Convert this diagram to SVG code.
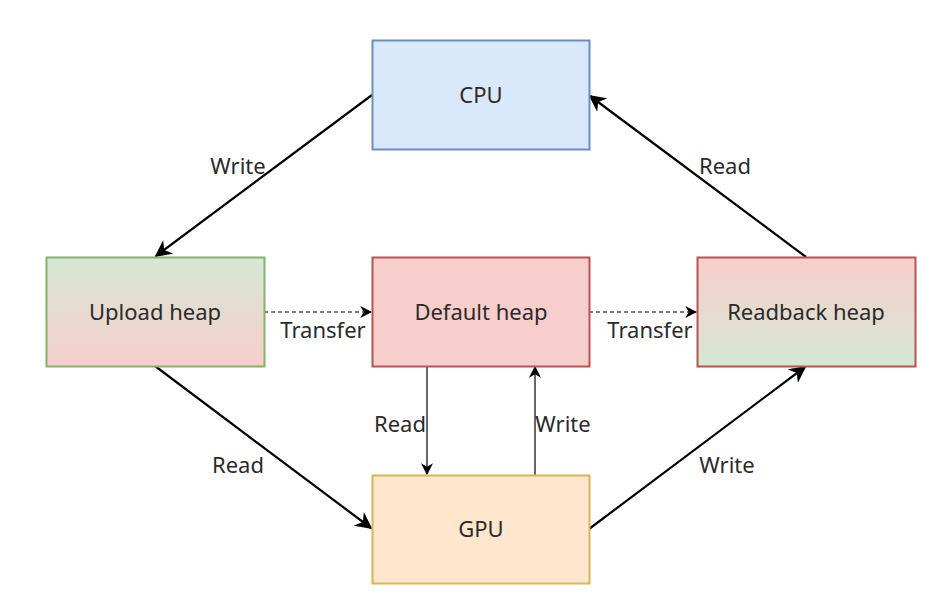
<svg xmlns="http://www.w3.org/2000/svg" width="944" height="595" viewBox="0 0 944 595">
<style>
.lbl{font-family:"Noto Sans","Open Sans","DejaVu Sans",sans-serif;font-size:22px;fill:#2a2a2a;text-anchor:middle;dominant-baseline:central}
.thick{stroke:#000;stroke-width:2.2;fill:none}
.thin{stroke:#000;stroke-width:1.2;fill:none}
.dash{stroke:#000;stroke-width:1.2;fill:none;stroke-dasharray:4 3}
</style>
<defs>
<linearGradient id="gUp" x1="0" y1="0" x2="0" y2="1">
<stop offset="0" stop-color="#d5e8d4"/><stop offset="1" stop-color="#f8cecc"/>
</linearGradient>
<linearGradient id="gRb" x1="0" y1="0" x2="0" y2="1">
<stop offset="0" stop-color="#f8cecc"/><stop offset="1" stop-color="#d5e8d4"/>
</linearGradient>
<marker id="aBig" viewBox="0 0 10 10" refX="9" refY="5" markerWidth="17" markerHeight="17" markerUnits="userSpaceOnUse" orient="auto">
<path d="M0,0 L10,5 L0,10 L3,5 z" fill="#000"/>
</marker>
<marker id="aSmall" viewBox="0 0 10 10" refX="9" refY="5" markerWidth="12" markerHeight="12" markerUnits="userSpaceOnUse" orient="auto">
<path d="M0,0 L10,5 L0,10 L3,5 z" fill="#000"/>
</marker>
</defs>
<rect width="944" height="595" fill="#ffffff"/>
<g id="connectors">
<line class="thick" x1="372" y1="95" x2="156" y2="256" marker-end="url(#aBig)"/>
<line class="thick" x1="155" y1="366" x2="371" y2="528" marker-end="url(#aBig)"/>
<line class="thick" x1="589" y1="529" x2="805" y2="367" marker-end="url(#aBig)"/>
<line class="thick" x1="806" y1="257" x2="590" y2="96" marker-end="url(#aBig)"/>
<line class="dash" x1="264" y1="312" x2="371" y2="312" marker-end="url(#aSmall)"/>
<line class="dash" x1="589" y1="312" x2="696" y2="312" marker-end="url(#aSmall)"/>
<line class="thin" x1="427" y1="366" x2="427" y2="474" marker-end="url(#aSmall)"/>
<line class="thin" x1="535" y1="475" x2="535" y2="367" marker-end="url(#aSmall)"/>
<text class="lbl" x="238" y="165">Write</text>
<text class="lbl" x="238" y="464">Read</text>
<text class="lbl" x="727" y="464">Write</text>
<text class="lbl" x="725" y="165">Read</text>
<text class="lbl" x="323" y="329">Transfer</text>
<text class="lbl" x="650" y="329">Transfer</text>
<text class="lbl" x="400" y="423">Read</text>
<text class="lbl" x="563" y="423">Write</text>
</g>
<g id="cpu">
<rect x="372.5" y="40.5" width="217" height="109" fill="#dae8fc" stroke="#6c8ebf" stroke-width="2"/>
<text class="lbl" x="481" y="94">CPU</text>
</g>
<g id="upload-heap">
<rect x="46.5" y="257.5" width="218" height="109" fill="url(#gUp)" stroke="#82b366" stroke-width="2"/>
<text class="lbl" x="155" y="311">Upload heap</text>
</g>
<g id="default-heap">
<rect x="372.5" y="257.5" width="217" height="109" fill="#f8cecc" stroke="#b85450" stroke-width="2"/>
<text class="lbl" x="481" y="311">Default heap</text>
</g>
<g id="readback-heap">
<rect x="697.5" y="257.5" width="218" height="109" fill="url(#gRb)" stroke="#b85450" stroke-width="2"/>
<text class="lbl" x="806" y="311">Readback heap</text>
</g>
<g id="gpu">
<rect x="372.5" y="475.5" width="217" height="108" fill="#ffe6cc" stroke="#d6b656" stroke-width="2"/>
<text class="lbl" x="481" y="528">GPU</text>
</g>
</svg>
